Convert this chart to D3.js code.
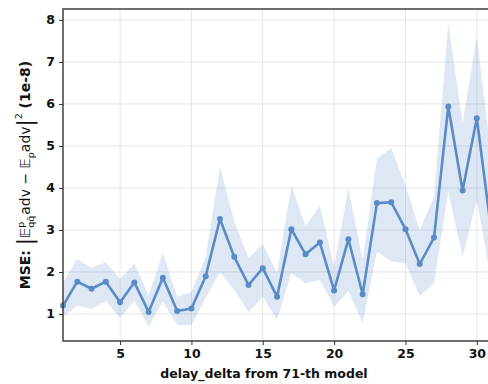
<!DOCTYPE html>
<html>
<head>
<meta charset="utf-8">
<script src="https://cdn.jsdelivr.net/npm/d3@7"></script>
<style>
  html, body { margin: 0; padding: 0; background: #fff; overflow: hidden; }
  svg { display: block; }
</style>
</head>
<body>
<svg id="chart" width="488" height="384"></svg>
<script>
// delay_delta values (model offset) and the measured MSE (in units of 1e-8)
const delays = [1,2,3,4,5,6,7,8,9,10,11,12,13,14,15,16,17,18,19,20,21,22,23,24,25,26,27,28,29,30,31];
const mseMean = [1.2,1.77,1.6,1.77,1.28,1.75,1.05,1.86,1.07,1.13,1.9,3.26,2.36,1.69,2.09,1.41,3.02,2.42,2.7,1.56,2.78,1.47,3.64,3.66,3.02,2.19,2.82,5.94,3.94,5.66,3.0];
const mseUpper = [1.75,2.31,2.1,2.23,1.83,2.2,1.45,2.45,1.41,1.53,2.36,4.5,3.2,2.33,2.66,1.98,4.05,3.1,3.58,2.13,3.99,2.29,4.7,4.95,4.07,3.0,3.79,7.92,5.54,7.6,4.8];
const mseLower = [0.92,1.2,1.12,1.31,0.91,1.31,0.71,1.3,0.74,0.74,1.38,2.0,1.57,1.05,1.41,0.87,1.97,1.73,1.81,1.17,1.55,0.78,2.48,2.25,2.21,1.43,1.73,3.91,2.36,3.71,1.8];
const xTicks = [5,10,15,20,25,30];
const yTicks = [1,2,3,4,5,6,7,8];

const lineColor = "#5b8bc6";
const svg = d3.select("#chart");

const margin = { left: 63, top: 9, bottom: 341 };
const x = d3.scaleLinear().domain([1, 32]).range([margin.left, margin.left + 31 * 14.27]);
const y = d3.scaleLinear().domain([0.357, 8.26]).range([margin.bottom, margin.top]);
const right = x.range()[1];

// grid
const grid = svg.append("g").attr("stroke", "#e3e3e3").attr("stroke-width", 0.9);
grid.selectAll("line.gx").data(xTicks).join("line")
  .attr("x1", d => x(d)).attr("x2", d => x(d))
  .attr("y1", margin.top).attr("y2", margin.bottom);
grid.selectAll("line.gy").data(yTicks).join("line")
  .attr("x1", margin.left).attr("x2", right)
  .attr("y1", d => y(d)).attr("y2", d => y(d));

// uncertainty band
svg.append("path")
  .datum(delays.map((d, i) => ({ d, lo: mseLower[i], hi: mseUpper[i] })))
  .attr("fill", lineColor).attr("fill-opacity", 0.2)
  .attr("d", d3.area().x(p => x(p.d)).y0(p => y(p.lo)).y1(p => y(p.hi)));

// mean line and markers
const pts = delays.map((d, i) => ({ d, v: mseMean[i] }));
svg.append("path").datum(pts)
  .attr("fill", "none").attr("stroke", lineColor).attr("stroke-width", 2.6)
  .attr("stroke-linejoin", "round")
  .attr("d", d3.line().x(p => x(p.d)).y(p => y(p.v)));
svg.selectAll("circle.pt").data(pts).join("circle")
  .attr("cx", p => x(p.d)).attr("cy", p => y(p.v)).attr("r", 3)
  .attr("fill", lineColor);

// axes
const xAxis = svg.append("g").attr("transform", `translate(0,${margin.bottom})`)
  .call(d3.axisBottom(x).tickValues(xTicks).tickSize(4).tickPadding(4).tickFormat(d3.format("d")));
const yAxis = svg.append("g").attr("transform", `translate(${margin.left},0)`)
  .call(d3.axisLeft(y).tickValues(yTicks).tickSize(4).tickPadding(4).tickFormat(d3.format("d")));
[xAxis, yAxis].forEach(a => {
  a.select(".domain").remove();
  a.selectAll(".tick line").attr("stroke", "#333").attr("stroke-width", 1);
  a.selectAll(".tick text").attr("fill", "#111")
    .style("font-family", "DejaVu Sans").style("font-weight", "bold").style("font-size", "12.5px");
});

// frame
svg.append("rect")
  .attr("x", margin.left).attr("y", margin.top)
  .attr("width", right - margin.left).attr("height", margin.bottom - margin.top)
  .attr("fill", "none").attr("stroke", "#333").attr("stroke-width", 1.4);

// x label
svg.append("text")
  .attr("x", 264).attr("y", 378).attr("text-anchor", "middle")
  .style("font-family", "DejaVu Sans").style("font-weight", "bold").style("font-size", "12.5px")
  .attr("fill", "#111")
  .text("delay_delta from 71-th model");

// y label: MSE: |E^p_{qq̄} adv − E_p adv|² (1e-8), laid out piece by piece
const ylab = svg.append("g");
const inner = ylab.append("g");
const pieces = [
  { t: "MSE: ", size: 14, bold: true },
  { t: "|", size: 21, dy: 2 },
  { t: "𝔼", size: 14 },
  { stack: [{ t: "p", size: 9.5, dy: -6 }, { t: "qq̄", size: 9.5, dy: 4 }] },
  { t: "adv − ", size: 14 },
  { t: "𝔼", size: 14 },
  { t: "p", size: 9.5, dy: 3.5 },
  { t: "adv", size: 14 },
  { t: "|", size: 21, dy: 2 },
  { t: "2", size: 9.5, dy: -8 },
  { t: " (1e-8)", size: 14, bold: true }
];
function addText(p, xpos) {
  const el = inner.append("text")
    .attr("x", xpos).attr("y", p.dy || 0)
    .attr("fill", "#111")
    .style("font-family", "DejaVu Sans")
    .style("font-weight", p.bold ? "bold" : "normal")
    .style("font-size", p.size + "px")
    .style("white-space", "pre")
    .attr("xml:space", "preserve")
    .text(p.t);
  return el.node().getComputedTextLength();
}
let cursor = 0;
pieces.forEach(p => {
  if (p.stack) {
    const w = Math.max(...p.stack.map(s => addText(s, cursor)));
    cursor += w + 1;
  } else {
    cursor += addText(p, cursor);
  }
});
inner.attr("transform", `translate(${-cursor / 2},0)`);
ylab.attr("transform", `translate(30,${(margin.top + margin.bottom) / 2}) rotate(-90)`);
</script>
</body>
</html>
